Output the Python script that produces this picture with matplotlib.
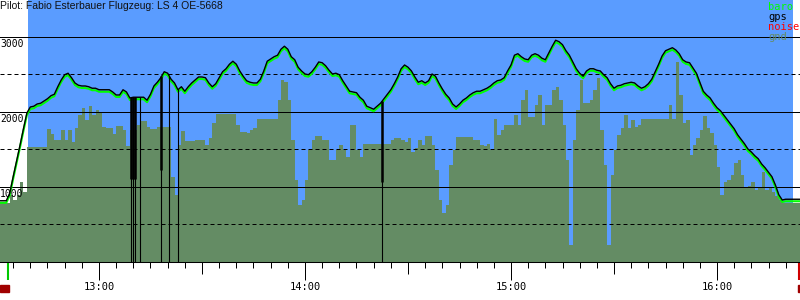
import numpy as np
import matplotlib
matplotlib.use('Agg')
import matplotlib.pyplot as plt
from matplotlib import transforms
from matplotlib.patches import Rectangle

# time axis: minutes after 12:00, one reading per minute starting 12:31
start_minute = 31

# barometric altitude (m)
baro = [
    790, 790, 790, 890, 1110, 1320, 1530, 1750, 1960, 2040,
    2050, 2080, 2090, 2120, 2150, 2190, 2210, 2310, 2400, 2470,
    2490, 2430, 2360, 2330, 2320, 2320, 2310, 2290, 2290, 2270,
    2270, 2270, 2270, 2240, 2200, 2200, 2270, 2240, 2160, 2170,
    2170, 2170, 2170, 2130, 2210, 2320, 2370, 2430, 2510, 2490,
    2410, 2360, 2270, 2310, 2250, 2310, 2360, 2400, 2440, 2440,
    2430, 2360, 2310, 2350, 2430, 2510, 2550, 2610, 2650, 2610,
    2520, 2450, 2390, 2370, 2360, 2360, 2410, 2520, 2650, 2680,
    2710, 2730, 2810, 2850, 2810, 2710, 2670, 2570, 2520, 2480,
    2470, 2510, 2570, 2640, 2630, 2590, 2530, 2480, 2490, 2470,
    2390, 2320, 2250, 2240, 2230, 2170, 2130, 2050, 2030, 2010,
    2050, 2090, 2150, 2210, 2270, 2350, 2440, 2550, 2600, 2570,
    2520, 2440, 2370, 2390, 2360, 2390, 2480, 2450, 2360, 2280,
    2210, 2160, 2080, 2040, 2080, 2130, 2160, 2200, 2230, 2250,
    2250, 2270, 2290, 2320, 2360, 2390, 2400, 2430, 2520, 2600,
    2730, 2750, 2710, 2680, 2670, 2730, 2750, 2730, 2690, 2670,
    2760, 2850, 2930, 2910, 2870, 2790, 2730, 2640, 2550, 2490,
    2450, 2520, 2550, 2550, 2530, 2520, 2470, 2430, 2350, 2290,
    2320, 2330, 2350, 2360, 2370, 2360, 2320, 2290, 2310, 2350,
    2410, 2510, 2610, 2720, 2790, 2810, 2830, 2800, 2750, 2670,
    2640, 2630, 2560, 2490, 2370, 2250, 2200, 2160, 2090, 2030,
    1990, 1930, 1870, 1810, 1750, 1670, 1610, 1550, 1480, 1440,
    1390, 1350, 1280, 1230, 1170, 1110, 1000, 870, 800, 810,
    810, 810, 810, 810,
]

# terrain height below the track (m)
gnd = [
    790, 790, 790, 890, 830, 890, 1070, 930, 1530, 1530,
    1530, 1530, 1530, 1530, 1770, 1700, 1630, 1630, 1760, 1630,
    1760, 1600, 1790, 1960, 2050, 1890, 2080, 1960, 2030, 2000,
    1800, 1790, 1790, 1700, 1810, 1810, 1760, 1550, 1760, 1760,
    1830, 1880, 1880, 1800, 1770, 1770, 1800, 1800, 1800, 1800,
    1130, 890, 1560, 1750, 1610, 1610, 1610, 1630, 1630, 1630,
    1560, 1650, 1850, 1970, 1970, 1970, 1970, 1970, 1970, 1830,
    1730, 1730, 1720, 1760, 1790, 1910, 1910, 1910, 1910, 1910,
    1910, 2160, 2430, 2400, 2160, 1630, 1090, 760, 830, 1090,
    1490, 1630, 1680, 1680, 1630, 1630, 1360, 1360, 1490, 1560,
    1490, 1400, 1830, 1830, 1490, 1400, 1570, 1570, 1570, 1570,
    1570, 1570, 1570, 1570, 1630, 1650, 1650, 1630, 1600, 1650,
    1470, 1520, 1630, 1560, 1680, 1680, 1560, 1230, 830, 650,
    760, 1290, 1490, 1670, 1670, 1670, 1670, 1670, 1630, 1630,
    1560, 1550, 1570, 1490, 1910, 1690, 1760, 1830, 1830, 1830,
    1960, 1830, 2160, 2290, 1930, 1930, 2090, 2230, 1830, 2090,
    2090, 2290, 2330, 2160, 1830, 1360, 230, 1630, 2030, 2430,
    2120, 2120, 2160, 2290, 2450, 1760, 1290, 230, 1160, 1490,
    1690, 1790, 1960, 1790, 1890, 1800, 1830, 1910, 1910, 1910,
    1910, 1910, 1910, 1910, 1910, 2090, 1910, 2670, 2230, 1850,
    1890, 1430, 1560, 1650, 1760, 1950, 1790, 1720, 1560, 1270,
    890, 1070, 1090, 1160, 1320, 1360, 1160, 990, 1010, 1070,
    960, 990, 1200, 960, 990, 930, 880, 830, 790, 790,
    790, 790, 790, 790,
]

# gps dropouts: minute, and height where the thick part of the drop ends
gps_drop_minutes = [69.4, 70.0, 70.5, 71.95, 78.2, 80.5, 83.1, 142.5]
gps_drop_floor = [1100, 1100, 1100, 0, 1230, 0, 0, 1070]

takeoff_minute = 33.5
landing_minute = 264.0
hour_ticks = [60, 120, 180, 240]
hour_labels = ['13:00', '14:00', '15:00', '16:00']
half_hour_ticks = [90, 150, 210]
alt_labels = [1000, 2000, 3000]
legend_items = ['baro', 'gps', 'noise', 'gnd']
title = 'Pilot: Fabio Esterbauer Flugzeug: LS 4 OE-5668'

SKY = '#5a9cff'
GROUND = '#648c64'
BARO = '#00ff00'
legend_colours = [BARO, '#000000', '#ff0000', GROUND]
MONO = 'DejaVu Sans Mono'

fig = plt.figure(figsize=(8, 3), dpi=100)
fig.patch.set_facecolor('white')
ax = fig.add_axes([0, 38 / 300, 1, 262 / 300])
ax.set_facecolor('white')
ax.set_xlim(31.17, 264.17)
ax.set_ylim(0, 3493)

t = start_minute + np.arange(len(baro))
edges = start_minute + np.arange(len(gnd) + 1)

# sky and ground
ax.axvspan(39.3, 262.1, color=SKY, lw=0, zorder=0)
ax.stairs(gnd, edges, fill=True, color=GROUND, baseline=0, lw=0, zorder=1)

# altitude grid
for level in range(500, 3001, 500):
    style = '-' if level % 1000 == 0 else (0, (4, 3))
    ax.axhline(level, color='black', lw=0.72, ls=style, zorder=2)

for level in alt_labels:
    ax.annotate(str(level), xy=(0, level),
                xycoords=transforms.blended_transform_factory(ax.transAxes, ax.transData),
                xytext=(0, -2), textcoords='offset pixels',
                ha='left', va='top', fontsize=7, family=MONO, zorder=6)

# flight traces
ax.plot(t, baro, color=BARO, lw=1.5, zorder=3)
lifted = transforms.offset_copy(ax.transData, fig=fig, x=0, y=2, units='dots')
ax.plot(t, baro, color='black', lw=1.0, zorder=4, transform=lifted)
for tm, floor in zip(gps_drop_minutes, gps_drop_floor):
    top = np.interp(tm, t, baro) + 30
    ax.vlines(tm, 0, top, color='black', lw=0.8, zorder=4)
    if floor:
        ax.vlines(tm, floor, top, color='black', lw=1.8, zorder=4)

# axes and time ticks
for side in ('top', 'left', 'right'):
    ax.spines[side].set_visible(False)
ax.spines['bottom'].set_linewidth(0.75)
ax.spines['bottom'].set_zorder(5)
ax.set_yticks([])
ax.set_xticks(hour_ticks, hour_labels)
ax.set_xticks(np.arange(35, 265, 5), minor=True)
ax.tick_params(axis='x', which='major', length=13, width=0.72, pad=1.5,
               labelsize=7.5)
ax.tick_params(axis='x', which='minor', length=4.3, width=0.72)
for lbl in ax.get_xticklabels():
    lbl.set_family(MONO)

sec = ax.secondary_xaxis('bottom')
sec.set_xticks(half_hour_ticks)
sec.tick_params(axis='x', length=8.6, width=0.72, labelbottom=False)
sec.spines['bottom'].set_visible(False)

# takeoff / landing markers
below = transforms.blended_transform_factory(ax.transData, ax.transAxes)
ax.vlines(takeoff_minute, -18 / 262, 0, transform=below, color='#00c800',
          lw=1.5, clip_on=False)
ax.vlines(landing_minute, -18 / 262, 0, transform=below, color='#d00000',
          lw=1.5, clip_on=False)
fig.patches.append(Rectangle((0, 8 / 300), 9 / 800, 7 / 300,
                             transform=fig.transFigure, color='#a00000'))
fig.patches.append(Rectangle((798 / 800, 8 / 300), 3 / 800, 7 / 300,
                             transform=fig.transFigure, color='#a00000'))

# legend and title
for i, (name, colour) in enumerate(zip(legend_items, legend_colours)):
    fig.text(768 / 800, 1 - (7 + 10 * i) / 300, name, color=colour,
             ha='left', va='center', fontsize=7.5, family=MONO)
fig.text(0, 1 - 1 / 300, title, ha='left', va='top', fontsize=7.5,
         family='Liberation Sans', color='#111111')

fig.savefig('out.png', dpi=100)
